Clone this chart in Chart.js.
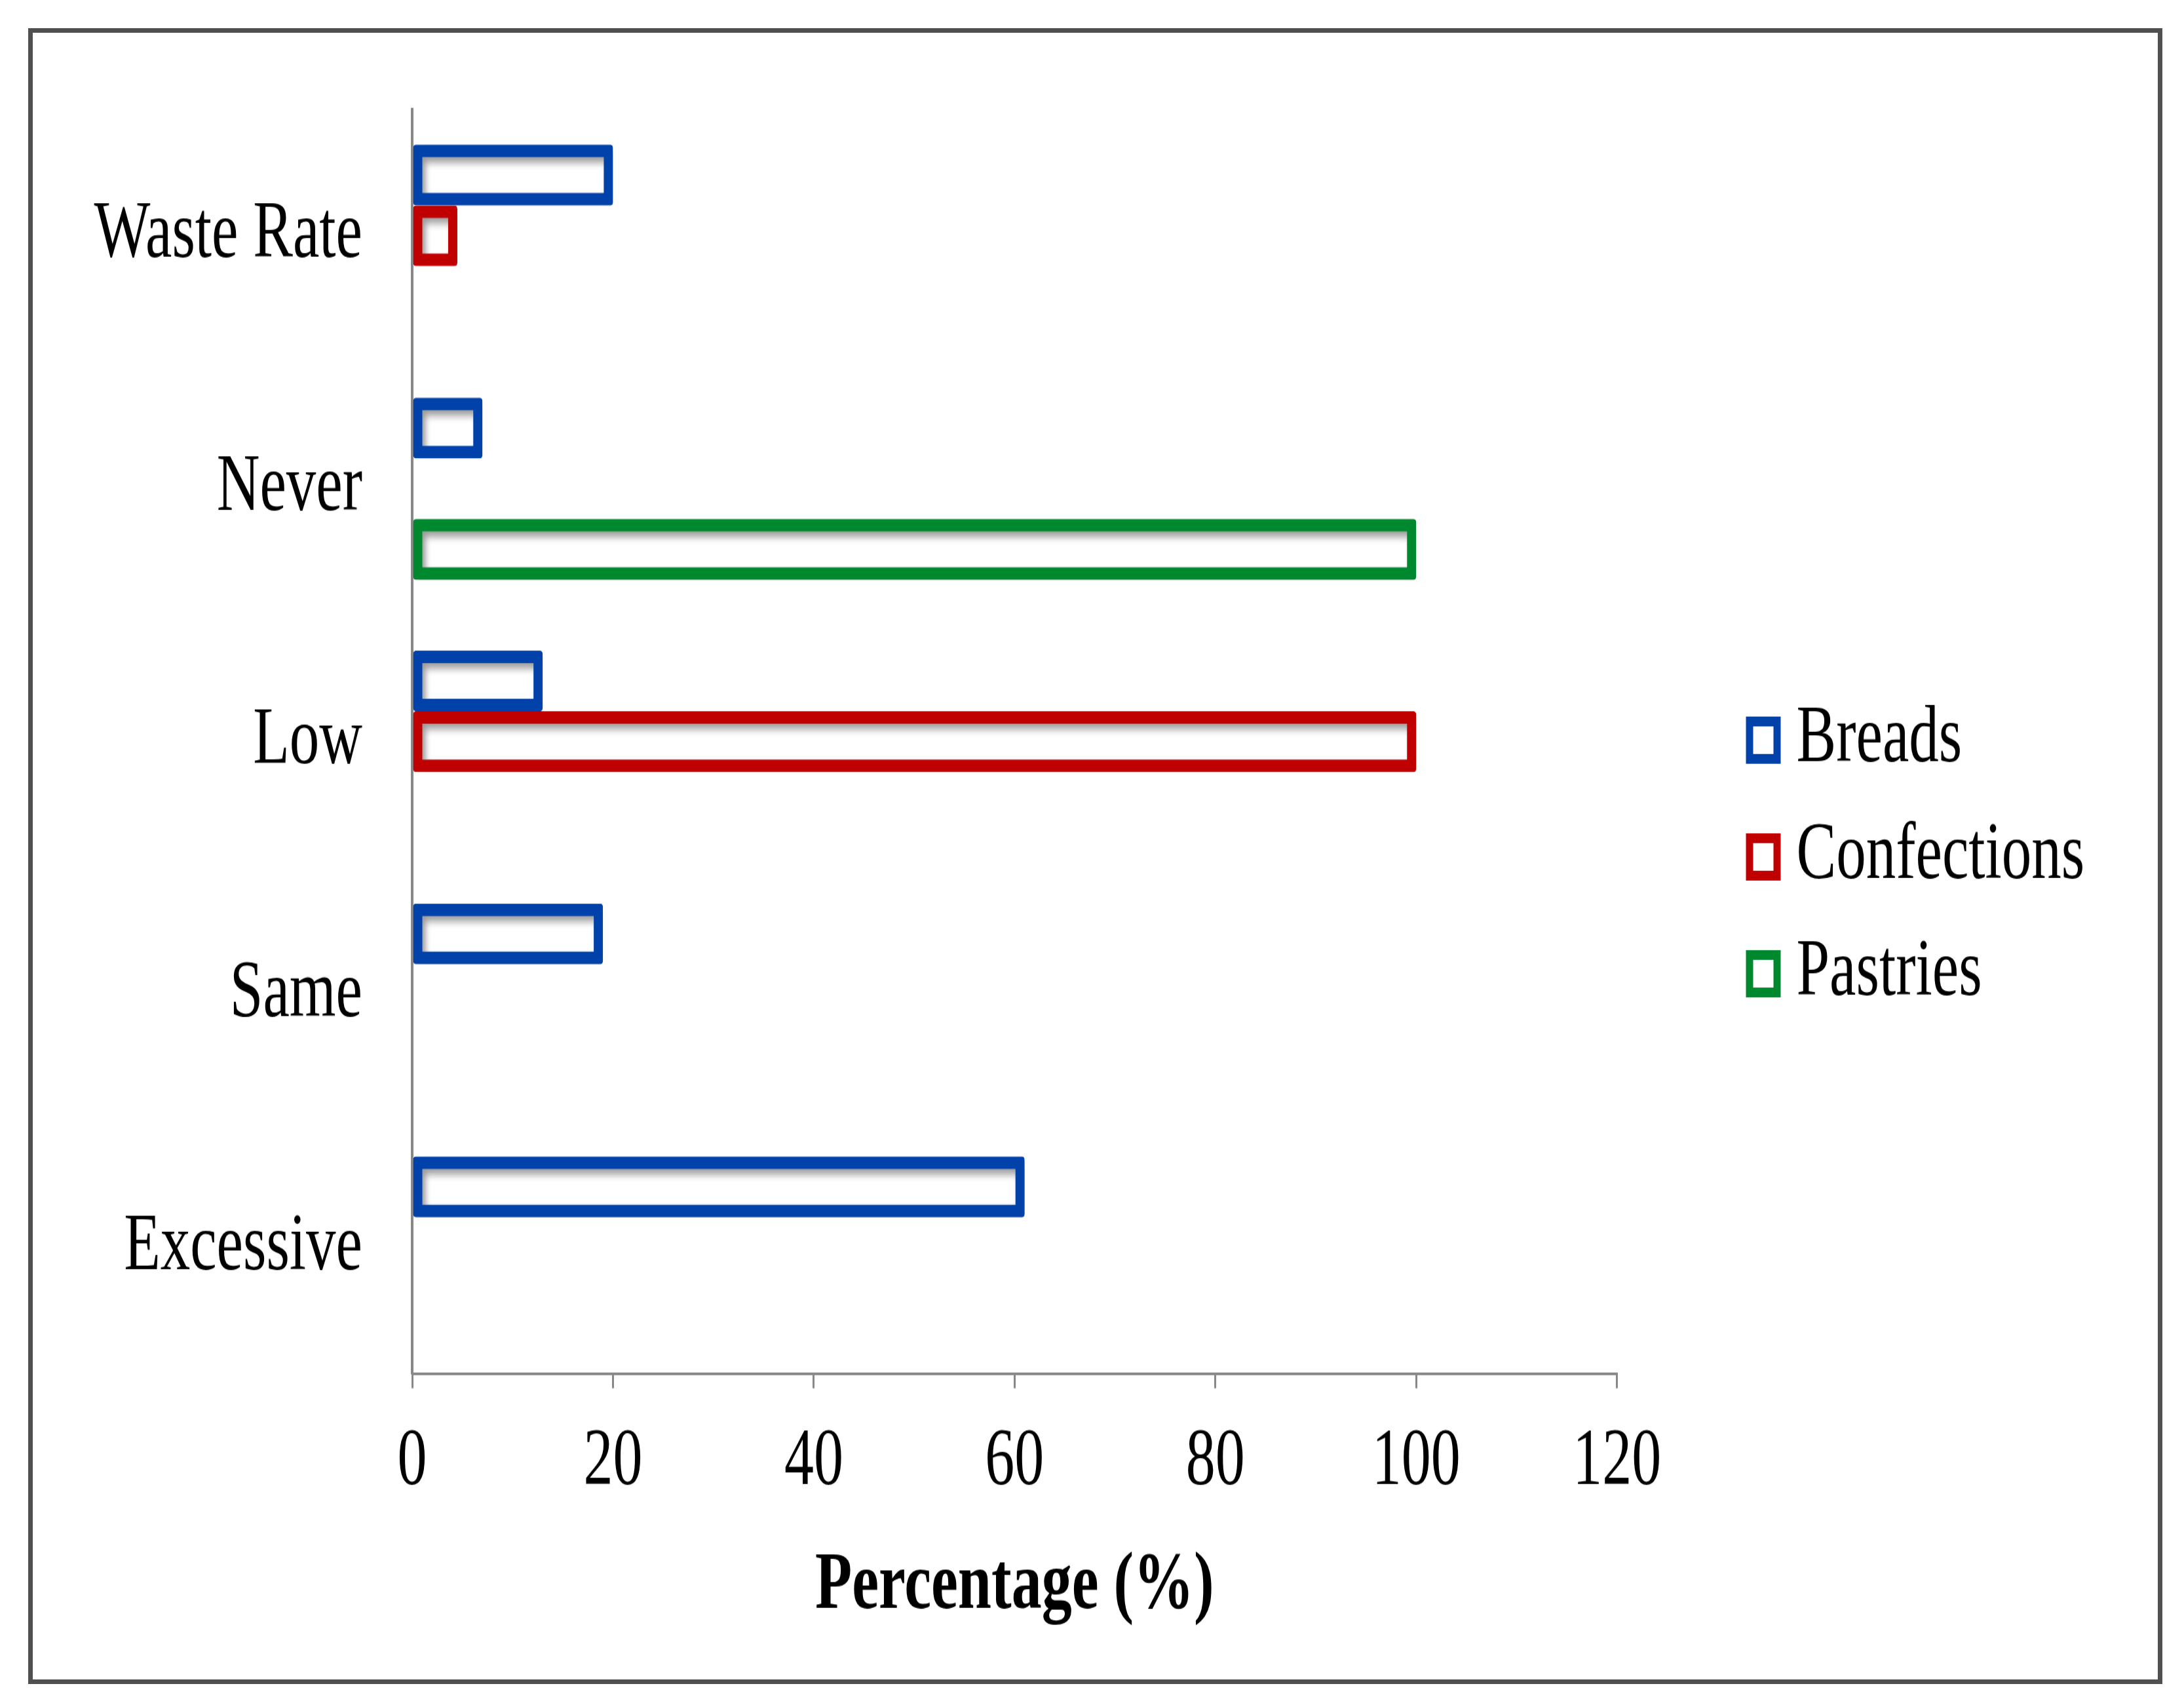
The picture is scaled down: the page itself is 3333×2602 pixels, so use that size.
<!DOCTYPE html>
<html>
<head>
<meta charset="utf-8">
<script src="https://cdn.jsdelivr.net/npm/chart.js@4"></script>
<style>
  html, body { margin: 0; padding: 0; background: #fff; }
  #page { position: relative; width: 3333px; height: 2602px; overflow: hidden; }
  #frame {
    position: absolute; left: 43px; top: 43px; width: 3257px; height: 2527px;
    border: 7px solid #505050; box-sizing: border-box;
  }
  #chart { position: absolute; left: 0; top: 0; }
</style>
</head>
<body>
<div id="page">
  <div id="frame"></div>
  <canvas id="chart" width="3333" height="1913" style="width:3333px;height:2602px"></canvas>
</div>
<script>
// categories, top to bottom
const categories = ['Waste Rate', 'Never', 'Low', 'Same', 'Excessive'];

// percentages (null = no bar)
const breads = [20, 7, 13, 19, 61];
const confections = [4.5, null, 100, null, null];
const pastries = [null, 100, null, null, null];

const xTicks = [0, 20, 40, 60, 80, 100, 120];

const serif = '"Liberation Serif", "Times New Roman", serif';

// the original picture is stretched vertically, the canvas is drawn short and scaled up by css
const shadowPlugin = {
  id: 'barShadow',
  beforeDatasetsDraw(chart) {
    const ctx = chart.ctx;
    ctx.save();
    ctx.shadowColor = 'rgba(0,0,0,0.4)';
    ctx.shadowOffsetX = 5;
    ctx.shadowOffsetY = 6;
    ctx.shadowBlur = 9;
  },
  afterDatasetsDraw(chart) {
    chart.ctx.restore();
  }
};

const legendShift = {
  id: 'legendShift',
  afterLayout(chart) {
    const lg = chart.legend;
    if (!lg) return;
    const dx = 2646 - lg.left;
    lg.left += dx;
    lg.right += dx;
    lg.top -= 1;
    lg.bottom -= 1;
  }
};

function makeSet(label, values, color) {
  return {
    label: label,
    data: values,
    borderColor: color,
    backgroundColor: 'rgba(255,255,255,0)',
    borderWidth: 14,
    borderRadius: 4,
    borderSkipped: false,
    barPercentage: 1,
    categoryPercentage: 0.72
  };
}

const ctx = document.getElementById('chart');
const chart = new Chart(ctx, {
  type: 'bar',
  data: {
    labels: categories,
    datasets: [
      makeSet('Breads', breads, '#0041aa'),
      makeSet('Confections', confections, '#c00000'),
      makeSet('Pastries', pastries, '#00882f')
    ]
  },
  options: {
    indexAxis: 'y',
    responsive: false,
    animation: false,
    devicePixelRatio: 1,
    layout: { padding: { left: 20, top: 90, right: 320, bottom: 78 } },
    scales: {
      x: {
        min: 0,
        max: 120,
        afterBuildTicks(scale) {
          scale.ticks = xTicks.map(v => ({ value: v }));
        },
        grid: {
          display: true,
          drawOnChartArea: false,
          drawTicks: true,
          tickLength: 16,
          color: '#888888',
          lineWidth: 3
        },
        border: { display: true, color: '#888888', width: 3 },
        ticks: {
          color: '#000',
          padding: 34,
          font: { family: serif, size: 90, lineHeight: 1.1 }
        },
        title: {
          display: true,
          text: 'Percentage (%)',
          color: '#000',
          padding: { top: 0, bottom: 0 },
          font: { family: serif, size: 92, weight: 'bold' }
        }
      },
      y: {
        afterFit(scale) {
          scale.width = 609;
        },
        grid: { display: false },
        border: { display: true, color: '#888888', width: 4 },
        ticks: {
          color: '#000',
          padding: 68,
          font: { family: serif, size: 91 }
        }
      }
    },
    plugins: {
      tooltip: { enabled: false },
      legend: {
        position: 'right',
        labels: {
          color: '#000',
          font: { family: serif, size: 91 },
          usePointStyle: true,
          pointStyle: 'rect',
          boxWidth: 10,
          boxHeight: 42,
          padding: 40,
          generateLabels(c) {
            return Chart.defaults.plugins.legend.labels.generateLabels(c).map(item => {
              item.lineWidth = 11;
              item.fillStyle = '#ffffff';
              return item;
            });
          }
        }
      }
    }
  },
  plugins: [shadowPlugin, legendShift]
});
</script>
</body>
</html>
